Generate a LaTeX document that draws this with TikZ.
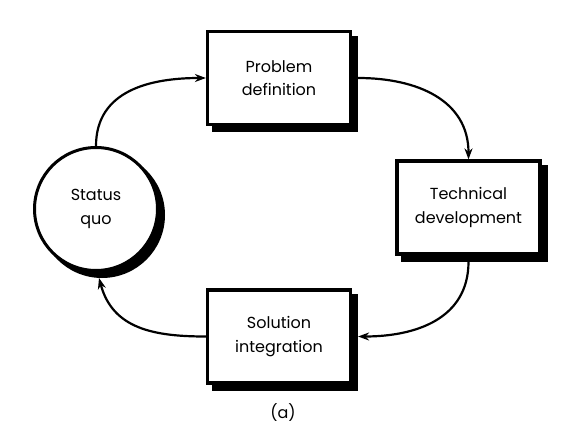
\documentclass[tikz,border=0pt]{standalone}
\usepackage{fontspec}
\setmainfont{Poppins}
\usetikzlibrary{arrows.meta}
\begin{document}
\begin{tikzpicture}[x=1pt,y=-1pt,
  shadowed/.style={preaction={draw=black, fill=black, transform canvas={shift={(6pt,-6pt)}}}},
  box/.style={shadowed, draw, line width=3.2pt, fill=white, minimum width=143pt, minimum height=93pt,
    align=center, inner sep=0pt, font=\fontsize{16}{23.5}\selectfont},
  roundbox/.style={shadowed, circle, draw, line width=3pt, fill=white, minimum size=123pt,
    align=center, inner sep=0pt, font=\fontsize{16}{23.5}\selectfont},
  arr/.style={line width=2.2pt, -{Stealth[length=11pt,width=8pt]}},
  lbl/.style={font=\fontsize{16}{20}\selectfont}
]
\useasboundingbox (0,0) rectangle (572,433);
\node[roundbox] (sq) at (96,209) {Status\\quo};
\node[box] (pd) at (279,78) {Problem\\definition};
\node[box] (td) at (468.5,207.5) {Technical\\development};
\node[box] (si) at (279,336.5) {Solution\\integration};
\node[lbl] (cap) at (283,413) {(a)};
\draw[arr] (sq.north) to[out=90,in=180,looseness=1.1] (pd.west);
\draw[arr] ([xshift=6pt]pd.east) to[out=0,in=90,looseness=1.1] (td.north);
\draw[arr] ([yshift=-6pt]td.south) to[out=-90,in=0,looseness=1.1] ([xshift=6pt]si.east);
\draw[arr] (si.west) to[out=180,in=-75,looseness=1.1] ([shift={(3pt,-6pt)}]sq.south);
\end{tikzpicture}
\end{document}
